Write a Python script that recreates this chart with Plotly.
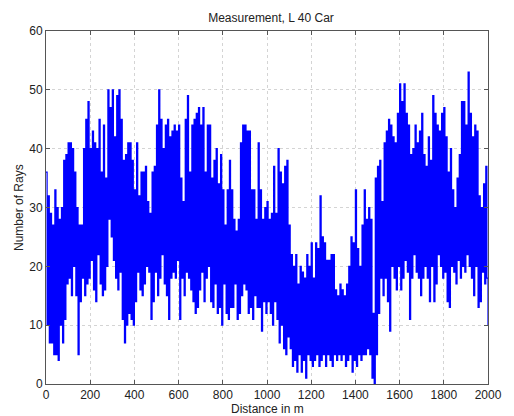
import numpy as np
import plotly.graph_objects as go

# distance grid (m), 5 m sampling
distance_m = list(range(0, 2001, 5))

# number of rays, 4 samples per 20 m
rays = [
    36, 10, 32, 7,    29, 7, 27, 5,     33, 5, 30, 4,     28, 10, 30, 7,    38, 11, 39, 17,
    41, 18, 41, 15,   40, 20, 36, 15,   30, 5, 27, 14,    27, 18, 40, 15,   45, 17, 48, 18,
    40, 21, 43, 16,   41, 14, 40, 22,   45, 17, 36, 15,   44, 16, 35, 20,   50, 28, 47, 25,
    50, 21, 42, 18,   49, 16, 50, 19,   45, 11, 38, 7,    39, 10, 41, 12,   41, 11, 38, 10,
    33, 14, 41, 19,   32, 16, 36, 15,   36, 17, 37, 20,   31, 19, 29, 11,   36, 14, 37, 19,
    44, 15, 50, 18,   45, 22, 40, 17,   44, 15, 45, 11,   42, 18, 43, 19,   44, 18, 43, 21,
    44, 11, 35, 18,   31, 15, 45, 19,   49, 18, 36, 16,   44, 14, 45, 12,   46, 13, 47, 16,
    44, 19, 47, 14,   36, 18, 44, 20,   44, 14, 35, 13,   38, 17, 40, 12,   34, 13, 39, 10,
    33, 17, 27, 12,   33, 11, 38, 13,   33, 13, 28, 17,   26, 11, 28, 12,   41, 15, 44, 17,
    44, 16, 43, 12,   43, 13, 33, 11,   33, 15, 28, 13,   41, 13, 33, 9,    28, 14, 30, 12,
    31, 14, 28, 12,   29, 10, 37, 14,   29, 11, 40, 7,    36, 10, 34, 6,    37, 5, 38, 8,
    27, 6, 22, 3,     20, 4, 22, 2,     17, 5, 20, 2,     19, 4, 18, 1,     22, 5, 20, 4,
    24, 3, 18, 4,     24, 5, 23, 3,     32, 4, 25, 5,     24, 3, 21, 5,     21, 4, 22, 3,
    22, 5, 16, 4,     15, 5, 17, 4,     16, 5, 15, 3,     17, 4, 20, 5,     25, 2, 24, 4,
    33, 3, 23, 5,     20, 4, 27, 5,     33, 5, 28, 6,     30, 5, 28, 1,     12, 0, 35, 5,
    37, 12, 38, 18,   31, 15, 41, 18,   43, 14, 45, 9,    44, 20, 42, 18,   41, 16, 46, 20,
    51, 16, 48, 18,   51, 21, 46, 19,   44, 11, 39, 18,   40, 22, 44, 19,   41, 18, 43, 15,
    46, 18, 39, 20,   37, 18, 42, 14,   38, 20, 49, 14,   46, 17, 44, 22,   43, 20, 46, 18,
    47, 19, 42, 14,   36, 13, 40, 20,   33, 19, 30, 17,   35, 21, 39, 18,   48, 20, 48, 19,
    44, 22, 53, 20,   46, 18, 42, 15,   44, 20, 43, 13,   32, 14, 30, 19,   34, 17, 37, 18,
    10,
]

x_ticks = [0, 200, 400, 600, 800, 1000, 1200, 1400, 1600, 1800, 2000]
y_ticks = [0, 10, 20, 30, 40, 50, 60]

FONT = "Liberation Sans, Arial, sans-serif"

fig = go.Figure()
fig.add_trace(go.Scatter(
    x=distance_m, y=rays, mode="lines",
    line=dict(color="#0000FF", width=1.2, shape="hv"),
    showlegend=False, hoverinfo="skip",
))

axis_common = dict(
    showline=True, linecolor="#555555", linewidth=1, mirror="ticks",
    ticks="inside", ticklen=4, tickcolor="#555555",
    showgrid=True, gridcolor="#d4d4d4", griddash="dot", gridwidth=1,
    zeroline=False, tickfont=dict(family=FONT, size=12, color="#222222"),
)

fig.update_layout(
    width=514, height=416,
    margin=dict(l=46, r=18, t=31, b=32),
    paper_bgcolor="white", plot_bgcolor="white",
    title=dict(text="Measurement, L 40 Car", x=271 / 514, xanchor="center",
               y=1 - 18 / 416, yanchor="middle", yref="container",
               font=dict(family=FONT, size=12, color="#222222")),
    xaxis=dict(range=[0, 2000], tickvals=x_ticks, **axis_common),
    yaxis=dict(range=[0, 60], tickvals=y_ticks, **axis_common),
    annotations=[
        dict(text="Distance in m", x=0.5, xref="paper", y=-25 / 353, yref="paper",
             xanchor="center", yanchor="middle", showarrow=False,
             font=dict(family=FONT, size=12, color="#222222")),
        dict(text="Number of Rays", x=-28 / 450, xref="paper", y=0.5, yref="paper",
             xanchor="center", yanchor="middle", textangle=-90, showarrow=False,
             font=dict(family=FONT, size=12, color="#222222")),
    ],
)

fig.write_html("out.html")
